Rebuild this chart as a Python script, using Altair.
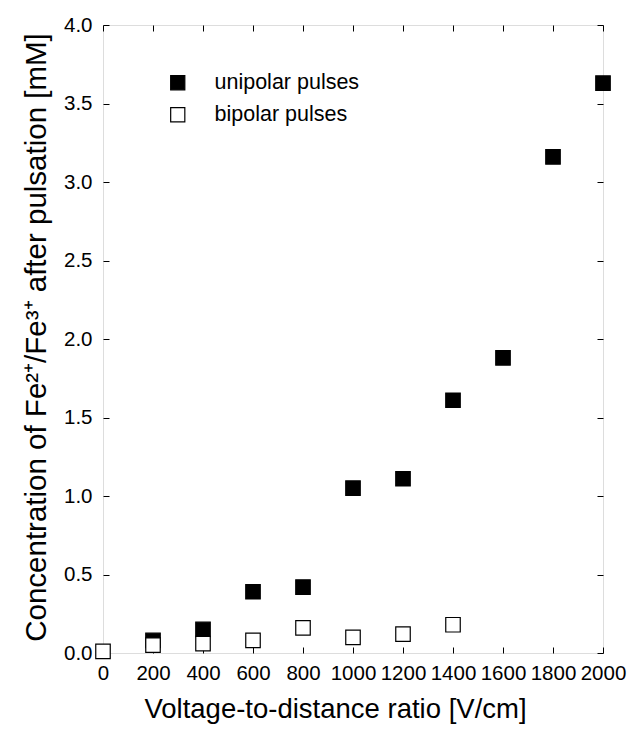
import altair as alt
import pandas as pd

# Data
uni_x = [200, 400, 600, 800, 1000, 1200, 1400, 1600, 1800, 2000]
uni_y = [0.08, 0.15, 0.39, 0.42, 1.05, 1.11, 1.61, 1.88, 3.16, 3.63]
bi_x = [0, 200, 400, 600, 800, 1000, 1200, 1400]
bi_y = [0.01, 0.05, 0.06, 0.08, 0.16, 0.10, 0.12, 0.18]
series_names = ["unipolar pulses", "bipolar pulses"]
x_ticks = [0, 200, 400, 600, 800, 1000, 1200, 1400, 1600, 1800, 2000]
y_ticks = [0.0, 0.5, 1.0, 1.5, 2.0, 2.5, 3.0, 3.5, 4.0]

rows = [{"x": a, "y": b, "series": series_names[0]} for a, b in zip(uni_x, uni_y)]
rows += [{"x": a, "y": b, "series": series_names[1]} for a, b in zip(bi_x, bi_y)]
df = pd.DataFrame(rows)

FONT = "Liberation Sans"
TICKFONT = "Liberation Sans"
W, H = 500, 628
TICK = 6

xscale = alt.Scale(domain=[0, 2000], nice=False, zero=False)
yscale = alt.Scale(domain=[0, 4], nice=False, zero=False)

points = alt.Chart(df).mark_point(
    shape="square", filled=True, stroke="black", strokeWidth=1.2, opacity=1, size=210, clip=False
).encode(
    x=alt.X("x:Q", scale=xscale,
            axis=alt.Axis(orient="bottom", values=x_ticks, format="d", domain=False, grid=False,
                          offset=-TICK, tickSize=TICK, tickColor="black", labelPadding=10,
                          labelFlush=False, labelOverlap=False,
                          labelFont=TICKFONT, labelFontSize=20.5, labelColor="black",
                          title="Voltage-to-distance ratio [V/cm]", titleFont=FONT, titleFontSize=27.5,
                          titleFontWeight="normal", titleColor="black",
                          titleX=232, titleY=62, titleBaseline="middle", titleAlign="center")),
    y=alt.Y("y:Q", scale=yscale,
            axis=alt.Axis(orient="left", values=y_ticks, format=".1f", domain=False, grid=False,
                          offset=-TICK, tickSize=TICK, tickColor="black", labelPadding=11,
                          labelFlush=False, labelOverlap=False,
                          labelFont=TICKFONT, labelFontSize=20.5, labelColor="black",
                          title="Concentration of Fe²⁺/Fe³⁺ after pulsation [mM]", titleFont=FONT,
                          titleFontSize=29.5, titleFontWeight="normal", titleColor="black",
                          titleAngle=270, titleX=-73, titleY=H / 2 - 2, titleBaseline="middle",
                          titleAlign="center")),
    fill=alt.Fill("series:N", scale=alt.Scale(domain=series_names, range=["black", "white"]),
                  legend=alt.Legend(title=None, orient="none", legendX=64, legendY=47,
                                    symbolType="square", symbolSize=200, symbolStrokeColor="black",
                                    symbolStrokeWidth=1.2, symbolOpacity=1,
                                    labelFont=FONT, labelFontSize=21.5, labelColor="black",
                                    labelOffset=26, rowPadding=9, padding=0)),
    order=alt.Order("ord:Q"),
).transform_calculate(ord="datum.series == 'unipolar pulses' ? 0 : 1")

mirror = alt.Chart(df).mark_point(opacity=0).encode(
    x=alt.X("x:Q", scale=xscale,
            axis=alt.Axis(orient="top", values=x_ticks, labels=False, domain=False, grid=False,
                          offset=-TICK, tickSize=TICK, tickColor="black", title=None)),
    y=alt.Y("y:Q", scale=yscale,
            axis=alt.Axis(orient="right", values=y_ticks, labels=False, domain=False, grid=False,
                          offset=-TICK, tickSize=TICK, tickColor="black", title=None)),
)

chart = alt.layer(points, mirror).resolve_axis(x="independent", y="independent").properties(
    width=W, height=H,
    autosize=alt.AutoSizeParams(type="none"),
    padding={"left": 95, "top": 17, "right": 24, "bottom": 80},
).configure_view(stroke="black", strokeWidth=1.2).configure(background="white")

chart.save("out.html", embed_options={"renderer": "svg", "actions": False})
